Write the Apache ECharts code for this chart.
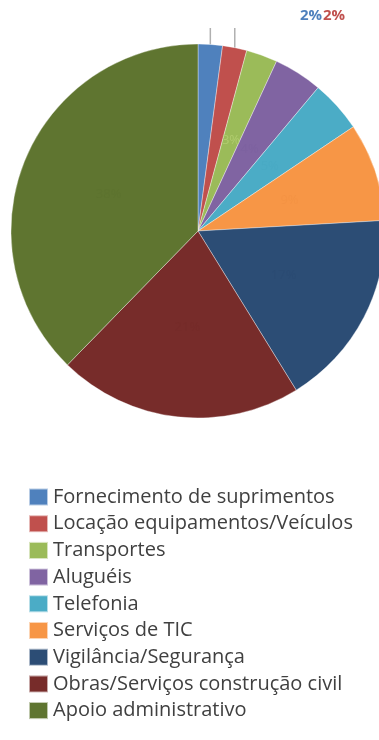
<!DOCTYPE html>
<html>
<head>
<meta charset="utf-8">
<script src="https://cdn.jsdelivr.net/npm/echarts@6/dist/echarts.min.js"></script>
<style>
  html, body { margin: 0; padding: 0; background: #fff; }
  #chart { width: 379px; height: 740px; }
</style>
</head>
<body>
<div id="chart"></div>
<script>
// Spending categories and their share of the total (%)
const categories = [
  'Fornecimento de suprimentos',
  'Locação equipamentos/Veículos',
  'Transportes',
  'Aluguéis',
  'Telefonia',
  'Serviços de TIC',
  'Vigilância/Segurança',
  'Obras/Serviços construção civil',
  'Apoio administrativo'
];
const shares = [2.1, 2.1, 2.7, 4.2, 4.5, 8.5, 17.1, 21.1, 37.7];

const colors = ['#4F81BD', '#C0504D', '#9BBB59', '#8064A2', '#4BACC6',
                '#F79646', '#2C4D75', '#772C2A', '#5F7530'];
// Inside labels are drawn in a tone very close to their slice
const labelColors = ['#4F81BD', '#C0504D', '#B0CC6E', '#7d62a0', '#49aac4',
                     '#f49344', '#2b4b73', '#752b29', '#5d732f'];

// The two smallest slices carry their labels above the pie
const outsideIdx = [0, 1];

const chart = echarts.init(document.getElementById('chart'), null, { renderer: 'canvas' });

const data = categories.map((name, i) => {
  const outside = outsideIdx.includes(i);
  return {
    name,
    value: shares[i],
    itemStyle: { color: colors[i] },
    label: {
      show: true,
      position: outside ? 'outside' : 'inside',
      color: labelColors[i],
      fontWeight: outside ? 'bold' : 'normal',
      fontSize: outside ? 15 : 13
    },
    labelLine: {
      show: outside,
      length: 12,
      length2: 0,
      lineStyle: { color: '#b0b0b0', width: 1.5 }
    }
  };
});

chart.setOption({
  animation: false,
  legend: {
    orient: 'vertical',
    left: 28,
    top: 487,
    padding: 0,
    height: 253,
    itemWidth: 19,
    itemHeight: 17,
    itemGap: 6.7,
    icon: 'rect',
    textStyle: {
      fontFamily: 'Open Sans',
      fontSize: 20,
      color: '#404040'
    },
    data: categories
  },
  series: [{
    type: 'pie',
    center: [198, 231],
    radius: [0, 187],
    startAngle: 90,
    clockwise: true,
    avoidLabelOverlap: false,
    itemStyle: { borderColor: 'rgba(255,255,255,0.6)', borderWidth: 0.6 },
    label: {
      fontFamily: 'Open Sans',
      formatter: p => Math.round(p.value) + '%'
    },
    emphasis: { disabled: true },
    labelLayout: function (params) {
      const i = outsideIdx.indexOf(params.dataIndex);
      if (i < 0) return {};
      const p0 = params.labelLinePoints ? params.labelLinePoints[0] : null;
      const out = {
        x: 300 + i * 23,
        y: 16,
        align: 'left',
        verticalAlign: 'middle'
      };
      if (p0) {
        out.labelLinePoints = [[p0[0], p0[1]], [p0[0], 28], [p0[0], 28]];
      }
      return out;
    },
    data
  }]
});
</script>
</body>
</html>
